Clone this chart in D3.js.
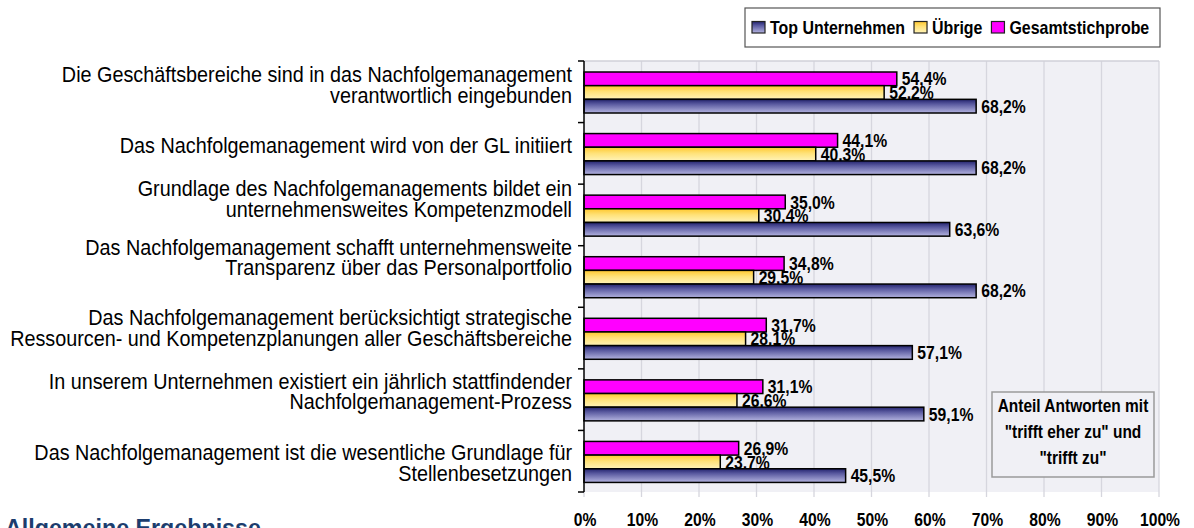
<!DOCTYPE html>
<html><head><meta charset="utf-8">
<script src="https://cdn.jsdelivr.net/npm/d3@7/dist/d3.min.js"></script>
<style>body{margin:0;background:#fff}svg{display:block}</style>
</head><body>
<svg id="c" width="1194" height="528"></svg>
<script>
const categories = [
  ["Die Geschäftsbereiche sind in das Nachfolgemanagement","verantwortlich eingebunden"],
  ["Das Nachfolgemanagement wird von der GL initiiert"],
  ["Grundlage des Nachfolgemanagements bildet ein","unternehmensweites Kompetenzmodell"],
  ["Das Nachfolgemanagement schafft unternehmensweite","Transparenz über das Personalportfolio"],
  ["Das Nachfolgemanagement berücksichtigt strategische","Ressourcen- und Kompetenzplanungen aller Geschäftsbereiche"],
  ["In unserem Unternehmen existiert ein jährlich stattfindender","Nachfolgemanagement-Prozess"],
  ["Das Nachfolgemanagement ist die wesentliche Grundlage für","Stellenbesetzungen"]
];
const seriesNames = ["Gesamtstichprobe","Übrige","Top Unternehmen"];
const gesamtValues = [54.4, 44.1, 35.0, 34.8, 31.7, 31.1, 26.9];
const uebrigeValues = [52.2, 40.3, 30.4, 29.5, 28.1, 26.6, 23.7];
const topValues = [68.2, 68.2, 63.6, 68.2, 57.1, 59.1, 45.5];
const xTicks = [0,10,20,30,40,50,60,70,80,90,100];
const legendOrder = ["Top Unternehmen","Übrige","Gesamtstichprobe"];
const boxLines = ["Anteil Antworten mit","\"trifft eher zu\" und","\"trifft zu\""];
const titleText = "Allgemeine Ergebnisse";

// layout: vertical nudge of each category label (px), as placed in the original
const labelNudge = [0, -1, -9, -12, -3, -1, 9];

const seriesValues = {"Gesamtstichprobe": gesamtValues, "Übrige": uebrigeValues, "Top Unternehmen": topValues};
const svg = d3.select("#c");
const FONT = "'Liberation Sans', Arial, sans-serif";

const defs = svg.append("defs");
const gY = defs.append("linearGradient").attr("id","gY").attr("x1",0).attr("x2",0).attr("y1",0).attr("y2",1);
gY.append("stop").attr("offset","0%").attr("stop-color","#ffc82e");
gY.append("stop").attr("offset","45%").attr("stop-color","#ffe27a");
gY.append("stop").attr("offset","100%").attr("stop-color","#fff3b8");
const gB = defs.append("linearGradient").attr("id","gB").attr("x1",0).attr("x2",0).attr("y1",0).attr("y2",1);
gB.append("stop").attr("offset","0%").attr("stop-color","#23236e");
gB.append("stop").attr("offset","35%").attr("stop-color","#5a5aa0");
gB.append("stop").attr("offset","100%").attr("stop-color","#b4b4e0");
const fills = {"Gesamtstichprobe":"#ff00ff","Übrige":"url(#gY)","Top Unternehmen":"url(#gB)"};

const x = d3.scaleLinear().domain([0,100]).range([584,1159]);
const y = d3.scaleBand().domain(d3.range(categories.length)).range([61,492]);
const ys = d3.scaleBand().domain(seriesNames).range([11,52]);

function txt(g, tx, ty, s, size, weight, anchor, sx){
  return g.append("text").attr("transform",`translate(${tx},${ty}) scale(${sx},1)`)
    .attr("font-family",FONT).attr("font-size",size).attr("font-weight",weight||"normal")
    .attr("text-anchor",anchor||"start").attr("fill","#000").text(s);
}

svg.append("rect").attr("x",x(0)).attr("y",61).attr("width",x(100)-x(0)).attr("height",492-61).attr("fill","#f0f0f5");
svg.append("g").selectAll("line").data(xTicks.slice(1)).join("line")
  .attr("x1",d=>x(d)).attr("x2",d=>x(d)).attr("y1",61).attr("y2",497)
  .attr("stroke","#d6d6de").attr("stroke-width",1.3);
svg.append("line").attr("x1",x(0)).attr("x2",x(100)).attr("y1",61).attr("y2",61).attr("stroke","#d0d0d8").attr("stroke-width",1.3);
svg.append("line").attr("x1",x(0)).attr("x2",x(0)).attr("y1",492).attr("y2",497).attr("stroke","#d6d6de").attr("stroke-width",1.3);

const bx = 992, by = 392, bw = 162, bh = 85;
svg.append("rect").attr("x",bx).attr("y",by).attr("width",bw).attr("height",bh)
  .attr("fill","#f0f0f5").attr("stroke","#9a9a9a").attr("stroke-width",1.5);
boxLines.forEach((l,i)=>txt(svg, bx+bw/2, by+20+i*26, l, 18, "bold", "middle", 0.86));

const fmt = v => d3.format(".1f")(v).replace(".",",")+"%";
const barG = svg.append("g");
seriesNames.forEach(s=>{
  const vals = seriesValues[s];
  barG.append("g").selectAll("rect").data(vals).join("rect")
    .attr("x",x(0)).attr("y",(d,i)=>y(i)+ys(s)).attr("width",d=>x(d)-x(0)).attr("height",ys.bandwidth())
    .attr("fill",fills[s]).attr("stroke","#000").attr("stroke-width",1.5);
  vals.forEach((v,i)=>{
    txt(barG, x(v)+5, y(i)+ys(s)+ys.bandwidth()/2+6.6, fmt(v), 18.5, "bold", "start", 0.85);
  });
});

svg.append("line").attr("x1",x(0)).attr("x2",x(0)).attr("y1",61).attr("y2",492).attr("stroke","#000").attr("stroke-width",1.5);
svg.append("g").selectAll("line").data(d3.range(categories.length+1)).join("line")
  .attr("x1",x(0)-6).attr("x2",x(0)).attr("y1",d=>61+d*y.step()).attr("y2",d=>61+d*y.step())
  .attr("stroke","#000").attr("stroke-width",1.5);

categories.forEach((lines,i)=>{
  const cy = y(i)+y.bandwidth()/2 - 7 + labelNudge[i];
  const lh = 20.5;
  const y0 = cy - (lines.length-1)*lh/2 + 7.5;
  lines.forEach((l,j)=>txt(svg, 572, y0+j*lh, l, 22, "normal", "end", 0.9));
});

xTicks.forEach(t=>txt(svg, x(t)+1, 525.5, t+"%", 18, "bold", "middle", 0.87));

const lg = svg.append("g");
lg.append("rect").attr("x",745).attr("y",8).attr("width",415).attr("height",39).attr("fill","#fff").attr("stroke","#555").attr("stroke-width",1.2);
let lx = 752;
legendOrder.forEach(s=>{
  lg.append("rect").attr("x",lx).attr("y",21.5).attr("width",13).attr("height",11.5)
    .attr("fill",fills[s]).attr("stroke","#222").attr("stroke-width",1.2);
  const t = txt(lg, lx+18, 33.5, s, 18, "bold", "start", 0.885);
  const w = t.node().getComputedTextLength()*0.885;
  lx = lx + 18 + w + 9;
});

svg.append("text").attr("transform","translate(5,536) scale(0.95,1)")
  .attr("font-family",FONT).attr("font-size",24.5).attr("font-weight","bold").attr("fill","#1c3d6e").text(titleText);
</script>
</body></html>
